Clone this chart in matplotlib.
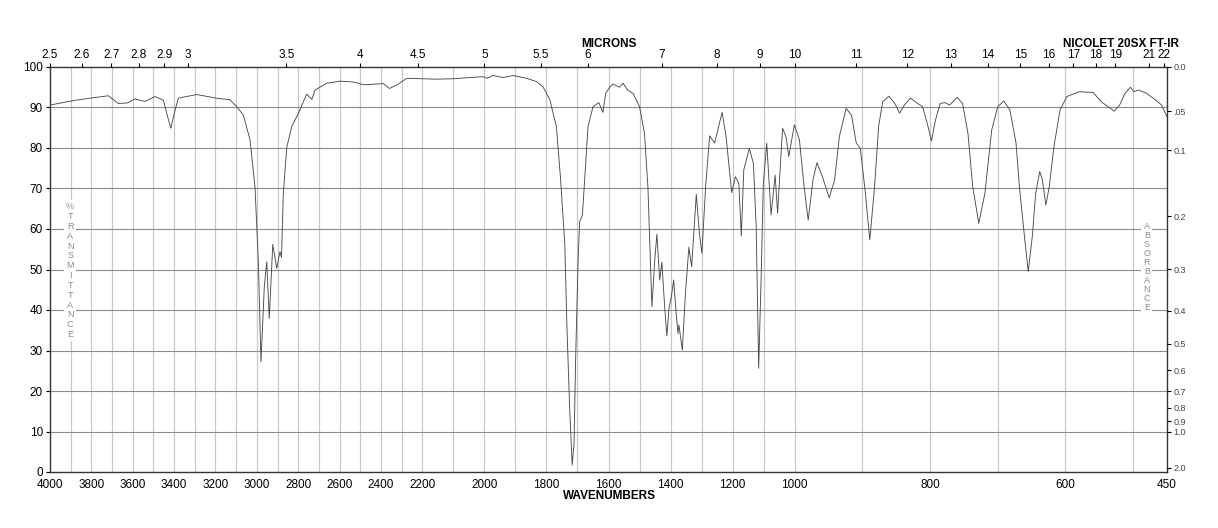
import numpy as np
import matplotlib
matplotlib.use("Agg")
import matplotlib.pyplot as plt

plt.rcParams['font.family'] = ['Liberation Sans', 'DejaVu Sans']

# ---- data (wavenumber cm-1, %T) ----
wavenumber = [4000, 3887, 3807, 3718, 3670, 3629, 3589, 3541, 3492, 3452, 3436, 3416,
              3399, 3380, 3291, 3194, 3130, 3097, 3065, 3033, 3009, 2993, 2980, 2964,
              2952, 2940, 2923, 2904, 2888, 2881, 2872, 2855, 2831, 2799, 2759, 2734,
              2719, 2662, 2598, 2533, 2485, 2388, 2359, 2323, 2275, 2154, 2100, 2047,
              2004, 1992, 1972, 1939, 1907, 1864, 1832, 1811, 1789, 1768, 1755, 1741,
              1734, 1725, 1717, 1711, 1706, 1698, 1693, 1684, 1677, 1666, 1650, 1631,
              1618, 1609, 1596, 1586, 1564, 1553, 1537, 1521, 1500, 1484, 1473, 1467,
              1460, 1451, 1444, 1435, 1428, 1419, 1412, 1405, 1398, 1390, 1382, 1376,
              1373, 1362, 1352, 1341, 1332, 1317, 1307, 1299, 1287, 1274, 1258, 1234,
              1221, 1203, 1191, 1180, 1172, 1164, 1146, 1133, 1124, 1116, 1108, 1101,
              1090, 1076, 1063, 1055, 1039, 1028, 1019, 1001, 993, 986, 980, 973,
              967, 959, 949, 941, 934, 924, 916, 909, 903, 896, 889, 882,
              876, 870, 861, 852, 845, 838, 829, 820, 811, 803, 798, 792,
              785, 778, 771, 760, 752, 744, 737, 728, 719, 709, 700, 691,
              682, 673, 668, 661, 655, 649, 644, 638, 634, 629, 624, 617,
              608, 598, 580, 559, 547, 528, 520, 512, 504, 499, 492, 480,
              468, 458, 450]
transmittance = [90.6, 91.7, 92.3, 92.9, 91.0, 91.1, 92.1, 91.5, 92.7, 91.8, 88.6, 84.9,
                 88.6, 92.3, 93.2, 92.3, 91.9, 90.2, 88.1, 82.0, 70.4, 52.3, 27.2, 45.8,
                 51.9, 37.9, 56.2, 50.3, 54.4, 53.0, 68.8, 80.3, 85.3, 88.6, 93.3, 92.0,
                 94.3, 96.0, 96.5, 96.3, 95.6, 95.9, 94.7, 95.6, 97.2, 97.0, 97.1, 97.4,
                 97.6, 97.2, 97.9, 97.4, 97.9, 97.2, 96.4, 95.1, 91.9, 85.3, 72.9, 56.5,
                 35.9, 15.3, 1.7, 7.1, 27.7, 52.3, 61.8, 63.5, 72.1, 85.3, 90.2, 91.2,
                 88.8, 93.5, 95.0, 95.8, 95.0, 96.0, 94.2, 93.5, 90.2, 83.6, 70.4, 56.5,
                 40.8, 52.3, 58.7, 47.4, 51.8, 40.8, 33.6, 40.4, 42.9, 47.4, 39.2, 34.2,
                 36.3, 30.1, 44.1, 55.5, 50.7, 68.6, 58.9, 54.0, 70.4, 83.0, 81.2, 88.8,
                 82.8, 69.0, 72.9, 71.3, 58.3, 74.6, 79.9, 76.2, 60.6, 25.6, 48.2, 71.3,
                 81.2, 63.5, 73.3, 63.9, 84.9, 82.8, 77.9, 85.7, 82.0, 70.4, 62.2, 72.1,
                 76.4, 72.9, 67.7, 72.1, 82.8, 89.8, 88.1, 81.2, 79.9, 69.6, 57.3, 70.4,
                 85.3, 91.4, 92.8, 91.0, 88.6, 90.6, 92.3, 91.2, 90.2, 85.3, 81.7, 86.9,
                 91.0, 91.2, 90.6, 92.5, 91.0, 83.6, 70.4, 61.4, 68.8, 84.4, 90.2, 91.6,
                 89.4, 81.2, 70.4, 58.9, 49.5, 58.1, 68.8, 74.2, 72.1, 65.9, 70.4, 80.3,
                 89.4, 92.7, 93.9, 93.7, 91.4, 89.1, 90.6, 93.5, 95.0, 93.9, 94.3, 93.5,
                 92.0, 90.6, 87.7]

wn_ticks = [4000, 3800, 3600, 3400, 3200, 3000, 2800, 2600, 2400, 2200, 2000, 1800,
            1600, 1400, 1200, 1000, 800, 600, 450]
micron_ticks = [2.5, 2.6, 2.7, 2.8, 2.9, 3, 3.5, 4, 4.5, 5, 5.5, 6, 7, 8, 9, 10, 11, 12,
                13, 14, 15, 16, 17, 18, 19, 21, 22]
abs_ticks = [0.0, 0.05, 0.1, 0.2, 0.3, 0.4, 0.5, 0.6, 0.7, 0.8, 0.9, 1.0, 2.0]
abs_labels = ['0.0', '.05', '0.1', '0.2', '0.3', '0.4', '0.5', '0.6', '0.7', '0.8',
              '0.9', '1.0', '2.0']

# ---- piecewise-linear wavenumber scale (three equal-width segments) ----
BP_NU = np.array([450.0, 1000.0, 2200.0, 4000.0])
BP_U = np.array([0.0, 1.0, 2.0, 3.0])


def fwd(nu):
    nu = np.asarray(nu, dtype=float)
    u = np.interp(nu, BP_NU, BP_U)
    lo = nu < BP_NU[0]
    hi = nu > BP_NU[-1]
    u = np.where(lo, (nu - BP_NU[0]) / 550.0, u)
    u = np.where(hi, 3.0 + (nu - BP_NU[-1]) / 1800.0, u)
    return u


def inv(u):
    u = np.asarray(u, dtype=float)
    nu = np.interp(u, BP_U, BP_NU)
    lo = u < 0
    hi = u > 3
    nu = np.where(lo, BP_NU[0] + u * 550.0, nu)
    nu = np.where(hi, BP_NU[-1] + (u - 3.0) * 1800.0, nu)
    return nu


W, H = 1218, 528
fig = plt.figure(figsize=(W / 100, H / 100), dpi=100)
x0, x1, y_top, y_bot = 50, 1167, 67, 472
ax = fig.add_axes([x0 / W, 1 - y_bot / H, (x1 - x0) / W, (y_bot - y_top) / H])

ax.set_xscale('function', functions=(fwd, inv))
ax.set_xlim(4000, 450)
ax.set_ylim(0, 100)

# grid
for nu in range(500, 4000, 100):
    ax.axvline(nu, color='#c8c8c8', lw=0.9, zorder=1)
for t in range(10, 100, 10):
    ax.axhline(t, color='#8c8c8c', lw=0.8, zorder=1)

ax.plot(wavenumber, transmittance, color='#4a4a4a', lw=0.65, zorder=3)

ax.set_xticks(wn_ticks)
ax.set_xticklabels([str(v) for v in wn_ticks])
ax.set_yticks(range(0, 101, 10))
ax.set_yticklabels([str(v) for v in range(0, 101, 10)])
ax.tick_params(axis='x', length=0, pad=5, labelsize=8.5)
ax.tick_params(axis='y', length=3, pad=2, labelsize=8.5, direction='out')
ax.minorticks_off()
for s in ax.spines.values():
    s.set_color('#333333')
    s.set_linewidth(1.0)

# top micron axis
axt = ax.twiny()
axt.set_xscale('function', functions=(fwd, inv))
axt.set_xlim(4000, 450)
axt.set_xticks([10000.0 / m for m in micron_ticks])
axt.set_xticklabels([('%g' % m) for m in micron_ticks])
axt.tick_params(axis='x', length=3, pad=1, labelsize=8.5, direction='out')
axt.minorticks_off()
for s in axt.spines.values():
    s.set_visible(False)

# right absorbance axis
axr = ax.twinx()
axr.set_ylim(0, 100)
axr.set_yticks([100.0 * 10 ** (-a) for a in abs_ticks])
axr.set_yticklabels(abs_labels)
axr.tick_params(axis='y', length=3, pad=1.5, labelsize=6.5, labelcolor='#444444',
                direction='out')
axr.minorticks_off()
for s in axr.spines.values():
    s.set_visible(False)

# stacked vertical labels
ax.text(0.018, 0.497, "\n".join("%TRANSMITTANCE"), transform=ax.transAxes,
        ha='center', va='center', fontsize=6.5, color='#8a8a8a', linespacing=1.12,
        zorder=4, bbox=dict(facecolor='white', edgecolor='none', pad=1.5))
ax.text(0.982, 0.507, "\n".join("ABSORBANCE"), transform=ax.transAxes,
        ha='center', va='center', fontsize=6.5, color='#8a8a8a', linespacing=1.0,
        zorder=4, bbox=dict(facecolor='white', edgecolor='none', pad=1.5))

fig.text(609 / W, 1 - 44 / H, "MICRONS", ha='center', va='center', fontsize=8.5,
         fontweight='bold')
fig.text(1121 / W, 1 - 44 / H, "NICOLET 20SX FT-IR", ha='center', va='center',
         fontsize=8.5, fontweight='bold')
fig.text(609 / W, 1 - 496 / H, "WAVENUMBERS", ha='center', va='center', fontsize=8.5,
         fontweight='bold')

fig.savefig("out.png", dpi=100)
